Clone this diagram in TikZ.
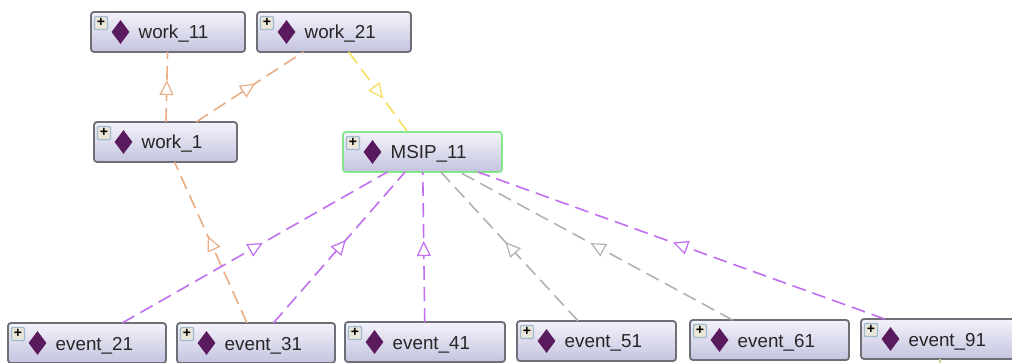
\documentclass[tikz,border=0pt]{standalone}
\usepackage{fontspec}
\setmainfont{Liberation Sans}
\usetikzlibrary{arrows.meta,decorations.markings,shapes.geometric}
\definecolor{edgeorange}{HTML}{E9AE84}
\definecolor{edgepurple}{HTML}{C06FF0}
\definecolor{edgegrey}{HTML}{B2B2B2}
\definecolor{edgeyellow}{HTML}{F6DF5E}
\definecolor{edgeolive}{HTML}{CBD68A}
\definecolor{boxline}{HTML}{6E6E76}
\definecolor{boxgreen}{HTML}{84E68A}
\definecolor{boxtop}{HTML}{F3F2FA}
\definecolor{boxbottom}{HTML}{C4C4E0}
\definecolor{dia}{HTML}{5A1A5E}
\definecolor{plusline}{HTML}{9DBBD0}
\definecolor{plusfill}{HTML}{EAE6D8}
\newcommand{\indiv}[6][boxline]{
    \node[indivbox, draw=#1, minimum width=#5pt] (#2) at (#3,#4) {};
    \node[plusicon] (#2p) at ([shift={(10,11)}]#2.north west) {+};
    \node[diaicon] (#2d) at ([shift={(29.5,20)}]#2.north west) {};
    \node[indivtext] (#2t) at ([shift={(47.5,27)}]#2.north west) {#6};
}

\begin{document}
\begin{tikzpicture}[x=1pt,y=-1pt]
    \tikzstyle{indivbox}=[rectangle, rounded corners=3pt, line width=1.8pt, outer sep=0pt, minimum height=40pt, inner sep=0pt, anchor=north west, top color=boxtop, bottom color=boxbottom]
    \tikzstyle{plusicon}=[rectangle, draw=plusline, fill=plusfill, line width=1.2pt, rounded corners=1pt, minimum size=13pt, inner sep=0pt, text height=7.5pt, text depth=0pt, font=\bfseries\fontsize{14}{14}\selectfont]
    \tikzstyle{diaicon}=[diamond, aspect=0.72, fill=dia, inner sep=0pt, minimum width=18pt, minimum height=24pt]
    \tikzstyle{indivtext}=[inner sep=0pt, anchor=base west, text=black!85, font=\fontsize{18.8}{18.8}\selectfont]
    \tikzstyle{isa}=[line width=1.6pt, dash pattern=on 14pt off 7pt, postaction={decorate, decoration={markings, mark=at position #1 with {\arrow[line width=1.2pt]{Triangle[length=15pt,width=14pt,fill=white]}}}}]
    \useasboundingbox (0,0) rectangle (1012,363);
    \fill[white] (0,0) rectangle (1012,363);
    \indiv{work11}{91}{12}{154}{work\_11}
    \indiv{work21}{257}{12}{154}{work\_21}
    \indiv{work1}{94}{122}{143}{work\_1}
    \indiv[boxgreen]{msip}{343}{132}{159}{MSIP\_11}
    \indiv{event21}{8}{323}{158}{event\_21}
    \indiv{event31}{177}{323}{158}{event\_31}
    \indiv{event41}{345}{322}{160}{event\_41}
    \indiv{event51}{517}{321}{159}{event\_51}
    \indiv{event61}{690}{320}{159}{event\_61}
    \indiv{event91}{861}{319}{158}{event\_91}
    \coordinate (below91) at (940,385);
    \draw[isa=0.6, edgeorange] (work1) -- (work11);
    \draw[isa=0.55, edgeorange] (work1) -- (work21);
    \draw[isa=0.58, edgeyellow] (work21) -- (msip);
    \draw[isa=0.54, edgeorange] (event31) -- (work1);
    \draw[isa=0.53, edgepurple] (event21) -- (msip);
    \draw[isa=0.55, edgepurple] (event31) -- (msip);
    \draw[isa=0.54, edgepurple] (event41) -- (msip);
    \draw[isa=0.53, edgegrey] (event51) -- (msip);
    \draw[isa=0.52, edgegrey] (event61) -- (msip);
    \draw[isa=0.52, edgepurple] (event91) -- (msip);
    \draw[line width=1.3pt, edgeolive] (event91) -- (below91);
\end{tikzpicture}
\end{document}
